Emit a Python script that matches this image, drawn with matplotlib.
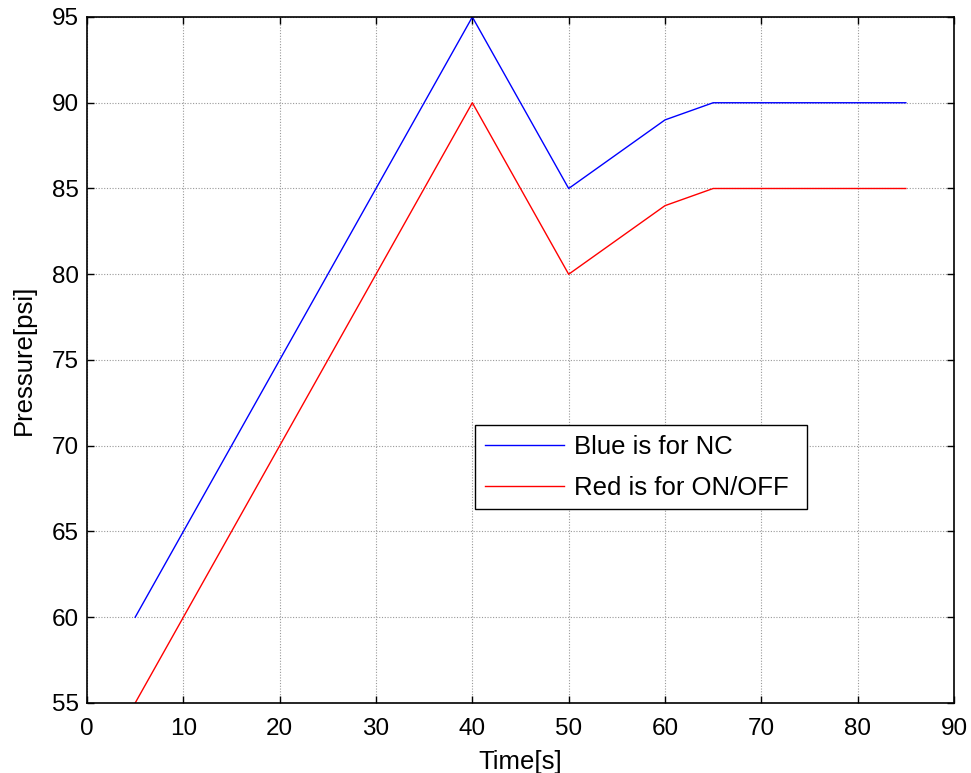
import matplotlib
matplotlib.use("Agg")
import matplotlib.pyplot as plt

time_s = [5, 10, 20, 30, 40, 50, 60, 65, 70, 80, 85]
pressure_nc = [60, 65, 75, 85, 95, 85, 89, 90, 90, 90, 90]
pressure_onoff = [55, 60, 70, 80, 90, 80, 84, 85, 85, 85, 85]
x_ticks = list(range(0, 91, 10))
y_ticks = list(range(55, 96, 5))

plt.rcParams['font.family'] = ['Liberation Sans', 'DejaVu Sans']
TICK_FS = 17.5
TEXT_FS = 18.5

fig = plt.figure(figsize=(9.71, 7.73), dpi=100)
ax = fig.add_axes([87 / 971, 1 - 703 / 773, 867 / 971, 686 / 773])

ax.plot(time_s, pressure_nc, color='#0000ff', lw=1.0, label='Blue is for NC')
ax.plot(time_s, pressure_onoff, color='#ff0000', lw=1.0, label='Red is for ON/OFF')

ax.set_xlim(0, 90)
ax.set_ylim(55, 95)
ax.set_xticks(x_ticks)
ax.set_yticks(y_ticks)
ax.grid(True, color='#999999', linestyle=(0, (1, 1.5)), linewidth=0.8)
ax.tick_params(direction='in', length=5, width=1, labelsize=TICK_FS,
               top=True, right=True, colors='black')
ax.tick_params(axis='x', pad=11)
ax.tick_params(axis='y', pad=6)
for s in ax.spines.values():
    s.set_linewidth(1.2)

ax.set_xlabel('Time[s]', fontsize=TEXT_FS, labelpad=7)
ax.set_ylabel('Pressure[psi]', fontsize=TEXT_FS, labelpad=11)

leg = ax.legend(loc='upper left', bbox_to_anchor=(475 / 971, 1 - 425 / 773, 332 / 971, 0),
                bbox_transform=fig.transFigure, mode='expand', fontsize=TEXT_FS,
                fancybox=False, framealpha=1, edgecolor='black',
                handlelength=3.07, handletextpad=0.42, borderaxespad=0, labelspacing=0.66,
                borderpad=0.38)
leg.get_frame().set_linewidth(1.0)

fig.savefig('out.png', dpi=100)
